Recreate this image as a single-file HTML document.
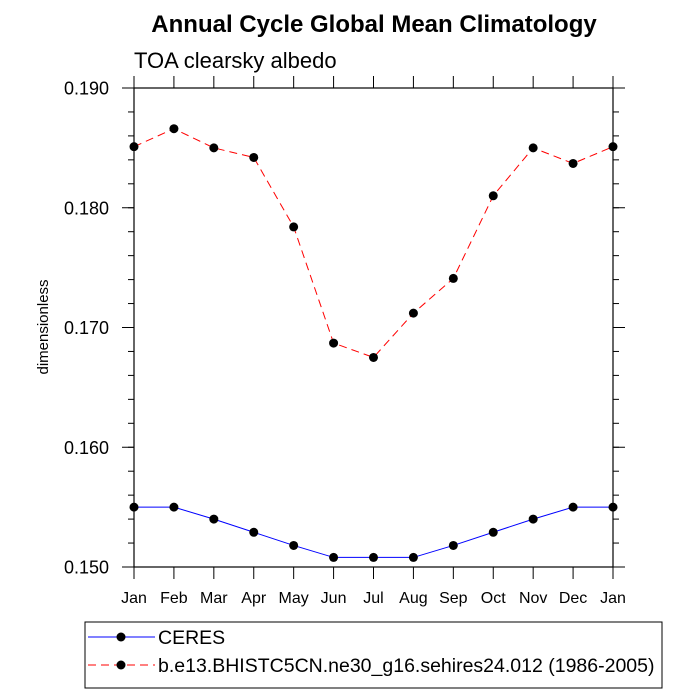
<!DOCTYPE html>
<html><head><meta charset="utf-8"><style>body{margin:0;background:#fff}svg{display:block}</style></head>
<body>
<svg id="chart" width="700" height="700" xmlns="http://www.w3.org/2000/svg" font-family="Liberation Sans, sans-serif">
<text x="374" y="32" text-anchor="middle" font-size="24" font-weight="bold">Annual Cycle Global Mean Climatology</text>
<text x="134" y="68" font-size="22">TOA clearsky albedo</text>
<text transform="translate(48,327) rotate(-90)" text-anchor="middle" font-size="15">dimensionless</text>
<g id="axes"></g>
<g id="series"></g>
<g>
<rect x="85" y="622" width="577" height="66" fill="none" stroke="#000" stroke-width="1"/>
<line x1="88" y1="637" x2="155" y2="637" stroke="#0000ff" stroke-width="1"/>
<circle cx="121" cy="637" r="4.5" fill="#000"/>
<text x="158" y="644" font-size="19.5">CERES</text>
<line x1="88" y1="665" x2="155" y2="665" stroke="#ff0000" stroke-width="1" stroke-dasharray="8,5"/>
<circle cx="121" cy="665" r="4.5" fill="#000"/>
<text x="158" y="672" font-size="19.5">b.e13.BHISTC5CN.ne30_g16.sehires24.012 (1986-2005)</text>
</g>
</svg>
<script>
const months = ["Jan","Feb","Mar","Apr","May","Jun","Jul","Aug","Sep","Oct","Nov","Dec","Jan"];
const ceres = [0.1550,0.1550,0.1540,0.1529,0.1518,0.1508,0.1508,0.1508,0.1518,0.1529,0.1540,0.1550,0.1550];
const model = [0.1851,0.1866,0.1850,0.1842,0.1784,0.1687,0.1675,0.1712,0.1741,0.1810,0.1850,0.1837,0.1851];
const yTicks = [0.150,0.160,0.170,0.180,0.190];
const yTickLabels = ["0.150","0.160","0.170","0.180","0.190"];

const NS="http://www.w3.org/2000/svg";
const L=134,R=613,T=88,B=567,ymin=0.150,ymax=0.190;
const xs=i=>L+(R-L)*i/(months.length-1);
const ys=v=>B-(B-T)*(v-ymin)/(ymax-ymin);
function mk(tag,attrs,parent){const e=document.createElementNS(NS,tag);for(const k in attrs)e.setAttribute(k,attrs[k]);parent.appendChild(e);return e;}
const ax=document.getElementById('axes');
const frame=mk('rect',{x:L,y:T,width:R-L,height:B-T,fill:'none',stroke:'#000','stroke-width':1.2},ax);


months.forEach((m,i)=>{
  const x=xs(i);
  mk('line',{x1:x,y1:B,x2:x,y2:B+12,stroke:'#000'},ax);
  mk('line',{x1:x,y1:T,x2:x,y2:T-12,stroke:'#000'},ax);
  const t=mk('text',{x:x,y:B+36,'text-anchor':'middle','font-size':16},ax);
  t.textContent=m;
  
  
});
for(let v=ymin;v<=ymax+1e-9;v+=0.002){
  const y=ys(v);
  mk('line',{x1:L,y1:y,x2:L-6,y2:y,stroke:'#000'},ax);
  mk('line',{x1:R,y1:y,x2:R+6,y2:y,stroke:'#000'},ax);
}
yTicks.forEach((v,i)=>{
  const y=ys(v);
  mk('line',{x1:L,y1:y,x2:L-12,y2:y,stroke:'#000'},ax);
  mk('line',{x1:R,y1:y,x2:R+12,y2:y,stroke:'#000'},ax);
  const t=mk('text',{x:L-25,y:y+6.5,'text-anchor':'end','font-size':18},ax);
  t.textContent=yTickLabels[i];
  
  
});
const sg=document.getElementById('series');
function series(vals,color,dash,name){
  const p=mk('polyline',{points:vals.map((v,i)=>xs(i)+','+ys(v)).join(' '),fill:'none',stroke:color,'stroke-width':1,'stroke-dasharray':dash},sg);
  
  
  vals.forEach((v,i)=>{
    const c=mk('circle',{cx:xs(i),cy:ys(v),r:4.5,fill:'#000'},sg);
    
    
  });
}
series(ceres,'#0000ff','none','ceres');
series(model,'#ff0000','8,5','model');
</script>
</body></html>
